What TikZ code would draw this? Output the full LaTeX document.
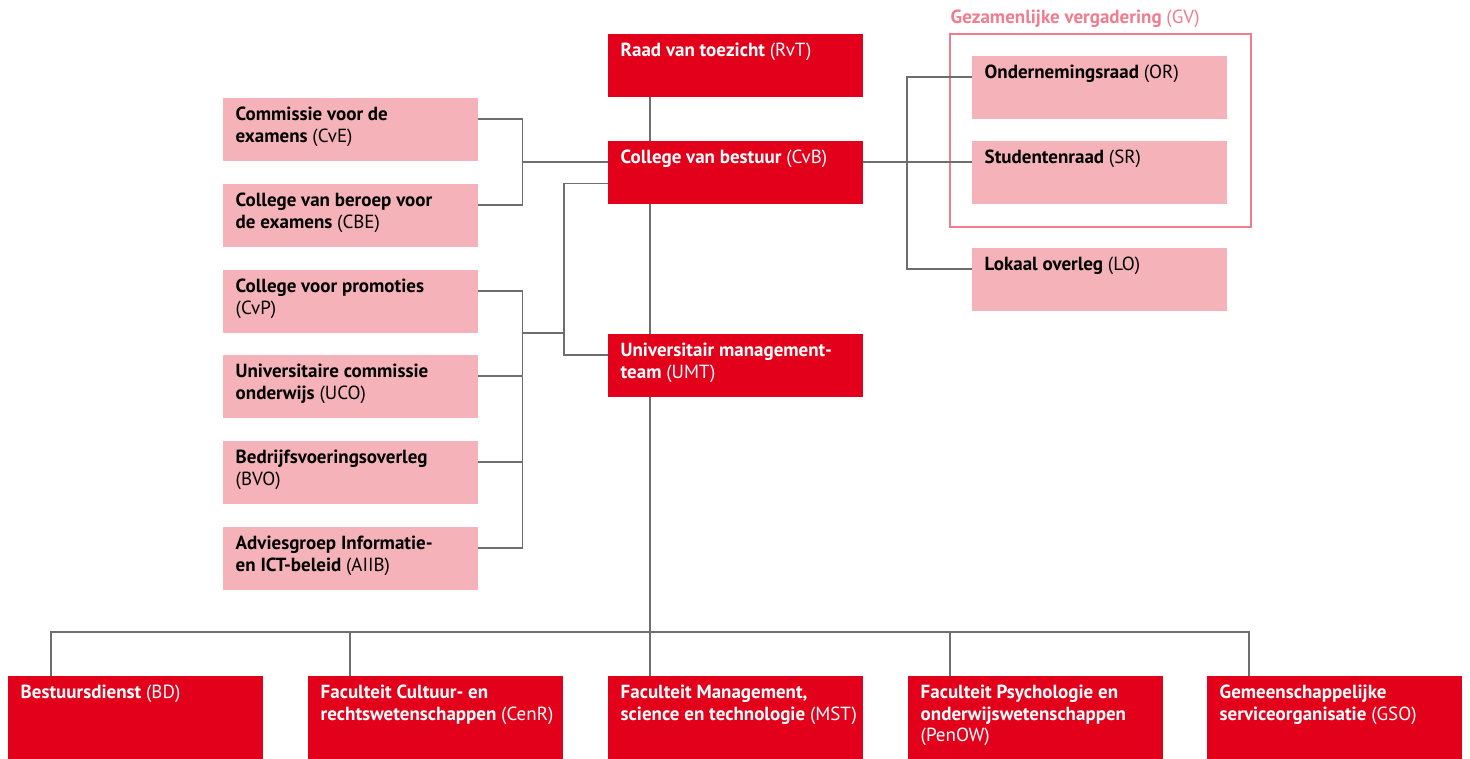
\documentclass[tikz,border=0pt]{standalone}
\usepackage{fontspec}
\setmainfont{PT Sans}
\usetikzlibrary{calc}
\definecolor{uvtred}{HTML}{E2001A}
\definecolor{uvtpink}{HTML}{F5B3B9}
\definecolor{gvpink}{HTML}{F07D8D}
\definecolor{lineg}{HTML}{6E6E6E}
\newcommand\abv[1]{{\mdseries #1}}
\newcommand\fst{\rule{0pt}{16pt}}
\begin{document}
\begin{tikzpicture}[x=1pt,y=-1pt,
  redbox/.style={fill=uvtred, draw=none, minimum width=255pt, minimum height=63pt, inner sep=0pt, anchor=north west},
  pinkbox/.style={redbox, fill=uvtpink},
  botbox/.style={redbox, minimum height=84pt},
  txt/.style={anchor=north west, inner sep=0pt, align=left, font=\fontsize{19}{21.5}\selectfont\bfseries},
  wtxt/.style={txt, text=white},
  btxt/.style={txt, text=black},
  conn/.style={draw=lineg, line width=1.4pt}]
\useasboundingbox (0,0) rectangle (1470,759);
\fill[white] (0,0) rectangle (1470,759);

% central column
\node[redbox] (rvt) at (608,34) {};
\node[redbox] (cvb) at (608,141) {};
\node[redbox] (umt) at (608,334) {};

% left committees
\node[pinkbox] (cve) at (223,98) {};
\node[pinkbox] (cbe) at (223,184) {};
\node[pinkbox] (cvp) at (223,270) {};
\node[pinkbox] (uco) at (223,355) {};
\node[pinkbox] (bvo) at (223,441) {};
\node[pinkbox] (aiib) at (223,527) {};

% right
\node[draw=gvpink, line width=2pt, minimum width=301pt, minimum height=193pt, inner sep=0pt, anchor=north west] (gv) at (949,33) {};
\node[pinkbox] (ornode) at (972,56) {};
\node[pinkbox] (sr) at (972,141) {};
\node[pinkbox] (lo) at (972,248) {};

% bottom row
\node[botbox] (bd) at (8,676) {};
\node[botbox] (cenr) at (308,676) {};
\node[botbox] (mst) at (608,676) {};
\node[botbox] (penow) at (908,676) {};
\node[botbox] (gso) at (1207,676) {};

% texts
\node[wtxt] (trvt) at ($(rvt.north west)+(12.5,6.5)$) {\fst Raad van toezicht \abv{(RvT)}};
\node[wtxt] (tcvb) at ($(cvb.north west)+(12.5,6.5)$) {\fst College van bestuur \abv{(CvB)}};
\node[wtxt] (tumt) at ($(umt.north west)+(12.5,6.5)$) {\fst Universitair management-\\team \abv{(UMT)}};
\node[btxt] (tcve) at ($(cve.north west)+(12.5,6.5)$) {\fst Commissie voor de\\examens \abv{(CvE)}};
\node[btxt] (tcbe) at ($(cbe.north west)+(12.5,6.5)$) {\fst College van beroep voor\\de examens \abv{(CBE)}};
\node[btxt] (tcvp) at ($(cvp.north west)+(12.5,6.5)$) {\fst College voor promoties\\\abv{(CvP)}};
\node[btxt] (tuco) at ($(uco.north west)+(12.5,6.5)$) {\fst Universitaire commissie\\onderwijs \abv{(UCO)}};
\node[btxt] (tbvo) at ($(bvo.north west)+(12.5,6.5)$) {\fst Bedrijfsvoeringsoverleg\\\abv{(BVO)}};
\node[btxt] (taiib) at ($(aiib.north west)+(12.5,6.5)$) {\fst Adviesgroep Informatie-\\en ICT-beleid \abv{(AIIB)}};
\node[btxt] (tor) at ($(ornode.north west)+(12.5,6.5)$) {\fst Ondernemingsraad \abv{(OR)}};
\node[btxt] (tsr) at ($(sr.north west)+(12.5,6.5)$) {\fst Studentenraad \abv{(SR)}};
\node[btxt] (tlo) at ($(lo.north west)+(12.5,6.5)$) {\fst Lokaal overleg \abv{(LO)}};
\node[wtxt] (tbd) at ($(bd.north west)+(12.5,6.5)$) {\fst Bestuursdienst \abv{(BD)}};
\node[wtxt] (tcenr) at ($(cenr.north west)+(12.5,6.5)$) {\fst Faculteit Cultuur- en\\rechtswetenschappen \abv{(CenR)}};
\node[wtxt] (tmst) at ($(mst.north west)+(12.5,6.5)$) {\fst Faculteit Management,\\science en technologie \abv{(MST)}};
\node[wtxt] (tpenow) at ($(penow.north west)+(12.5,6.5)$) {\fst Faculteit Psychologie en\\onderwijswetenschappen\\\abv{(PenOW)}};
\node[wtxt] (tgso) at ($(gso.north west)+(12.5,6.5)$) {\fst Gemeenschappelijke\\serviceorganisatie \abv{(GSO)}};
\node[txt, text=gvpink, anchor=base west] (gvl) at (950.5,24) {Gezamenlijke vergadering \abv{(GV)}};

% connectors: central spine
\draw[conn] ($(rvt.south west)+(42,0)$) -- ($(cvb.north west)+(42,0)$);
\draw[conn] ($(cvb.south west)+(42,0)$) -- ($(umt.north west)+(42,0)$);
\draw[conn] ($(umt.south west)+(42,0)$) -- ($(mst.north west)+(42,0)$);
\coordinate (bus) at ($(mst.north west)+(42,-44)$);
\draw[conn] ($(bd.north west)+(43,0)$) |- (bus) -| ($(gso.north west)+(42,0)$);
\draw[conn] ($(cenr.north west)+(42,0)$) -- ++(0,-44);
\draw[conn] ($(penow.north west)+(42,0)$) -- ++(0,-44);

% left brackets
\draw[conn] ($(cve.north east)+(0,21)$) -- ++(44,0) |- ($(cbe.north east)+(0,21)$);
\draw[conn] ($(cvb.north west)+(0,21)$) -- ++(-86,0);
\draw[conn] ($(cvp.north east)+(0,21)$) -- ++(44,0) |- ($(aiib.north east)+(0,21)$);
\draw[conn] ($(uco.north east)+(0,21)$) -- ++(44,0);
\draw[conn] ($(bvo.north east)+(0,21)$) -- ++(44,0);
\draw[conn] ($(cvb.north west)+(0,42.7)$) -- ++(-44,0) |- ($(umt.north west)+(0,21)$);
\draw[conn] ($(cvp.north east)+(44,63)$) -- ++(42,0);

% right side
\draw[conn] ($(cvb.north east)+(0,21)$) -- ($(sr.north west)+(0,21)$);
\draw[conn] ($(ornode.north west)+(0,21)$) -- ++(-65,0) |- ($(lo.north west)+(0,21)$);
\end{tikzpicture}
\end{document}
